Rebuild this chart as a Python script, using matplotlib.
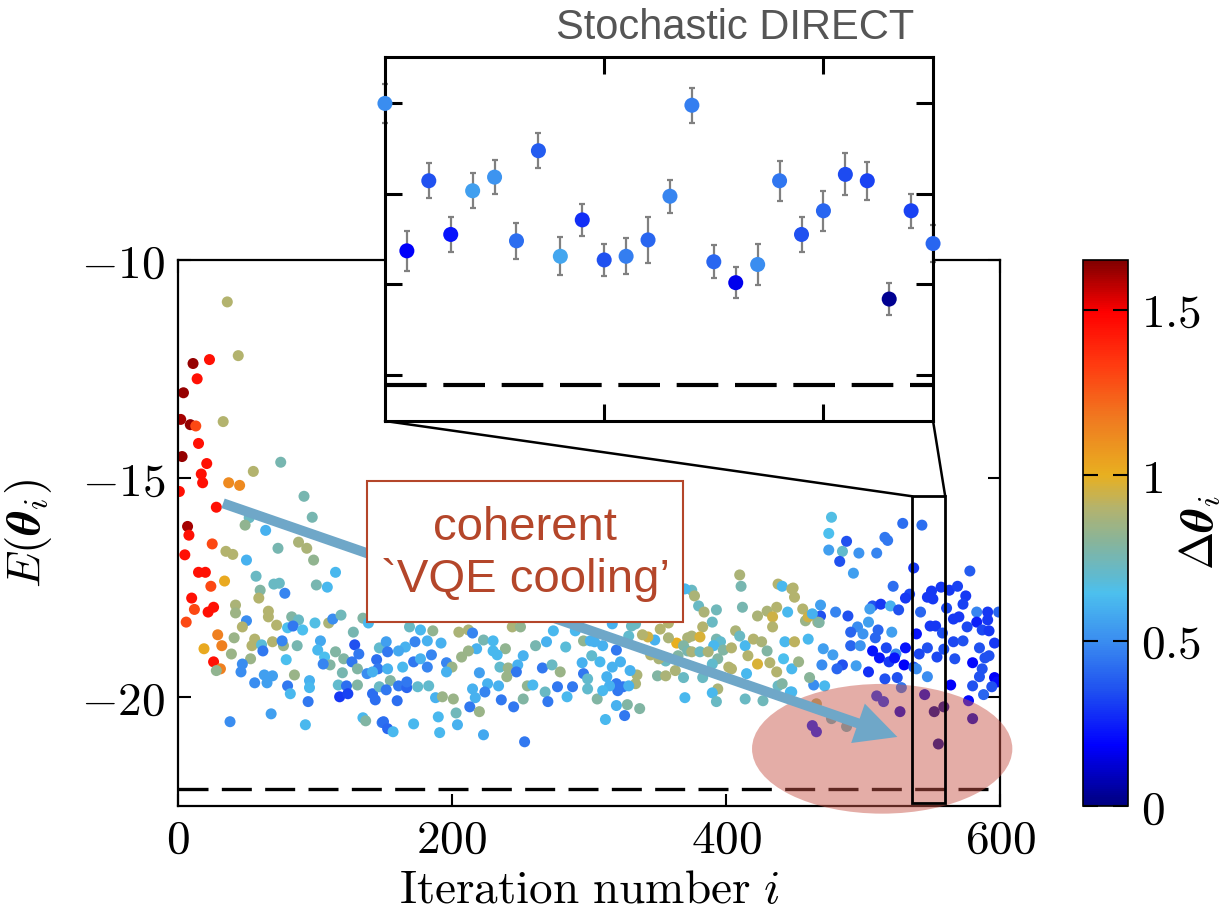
import numpy as np
import matplotlib
matplotlib.use("Agg")
import matplotlib.pyplot as plt
from matplotlib.colors import LinearSegmentedColormap, Normalize
from matplotlib.patches import Rectangle, Ellipse, ConnectionPatch
from matplotlib.ticker import FuncFormatter

plt.rcParams.update({
    "mathtext.fontset": "cm",
    "font.family": "DejaVu Serif",
    "xtick.direction": "in",
    "ytick.direction": "in",
})

# ---------------------------------------------------------------------------
# Data: (iteration, energy, delta theta)
# ---------------------------------------------------------------------------
early = [
    (15, -14.2, 1.45), (3, -14.5, 1.62), (21, -14.66, 1.45), (17, -14.9, 1.45),
    (18, -15.1, 1.45), (1, -15.3, 1.45), (28, -15.66, 1.45), (7, -16.1, 1.6),
    (8, -16.3, 1.45), (25, -16.5, 1.3), (5, -16.75, 1.45), (15, -17.15, 1.45),
    (20, -17.15, 1.45), (24, -17.47, 1.3), (34, -17.35, 1.02), (10, -17.74, 1.45),
    (12, -18.0, 1.3), (26, -17.95, 1.45), (22, -18.06, 1.45), (6, -18.29, 1.3),
    (29, -18.58, 1.15), (32, -18.83, 1.15), (19, -18.9, 1.02), (26, -19.2, 1.45),
    (31, -19.36, 1.15), (28, -19.4, 0.82),
    (36, -10.96, 0.9), (44, -12.19, 0.9), (11, -12.37, 1.62), (23, -12.28, 1.45),
    (14, -12.72, 1.45), (4, -13.04, 1.62), (2, -13.65, 1.6), (9, -13.77, 1.62),
    (13, -13.8, 1.3), (33, -13.7, 0.9),
]

block_1 = [
    (55, -14.84, 0.9), (75, -14.63, 0.76), (37, -15.1, 1.12), (45, -15.16, 1.12),
    (92, -15.41, 0.76), (98, -15.89, 0.76), (52, -15.9, 0.72), (49, -16.07, 0.82),
    (64, -16.19, 0.6), (73, -16.6, 0.76), (88, -16.46, 0.88), (94, -16.6, 0.88),
    (99, -16.87, 0.82), (35, -16.67, 0.9), (40, -16.74, 0.9), (50, -16.87, 0.6),
    (115, -17.15, 0.62), (57, -17.24, 0.72), (70, -17.42, 0.72), (74, -17.4, 0.72),
    (101, -17.44, 0.76), (109, -17.49, 0.62), (60, -17.56, 0.78), (78, -17.63, 0.48),
    (59, -17.74, 0.9), (42, -17.9, 0.88), (42, -18.08, 0.85), (66, -18.04, 0.9),
    (66, -18.17, 0.9), (72, -18.36, 0.9), (50, -18.26, 0.5), (47, -18.4, 0.9),
    (83, -18.17, 0.78), (88, -18.24, 0.72), (80, -18.42, 0.64), (84, -18.38, 0.45),
    (91, -18.47, 0.64), (100, -18.31, 0.66), (110, -18.31, 0.88), (113, -18.22, 0.5),
    (119, -18.13, 0.74), (135, -18.2, 0.78), (139, -18.31, 0.62), (128, -18.52, 0.76),
    (41, -18.65, 0.84), (56, -18.68, 0.9), (54, -18.83, 0.9), (61, -18.81, 0.68),
    (62, -18.95, 0.45), (69, -18.74, 0.9), (77, -18.83, 0.84), (76, -18.72, 0.48),
    (87, -18.83, 0.76), (104, -18.72, 0.58), (129, -18.81, 0.35), (147, -18.88, 0.7),
    (39, -19.02, 0.84), (53, -19.13, 0.84), (47, -19.25, 0.5), (46, -19.43, 0.5),
    (79, -19.15, 0.64), (102, -18.93, 0.62), (107, -19.09, 0.64), (115, -18.97, 0.78),
    (111, -19.27, 0.78), (106, -19.25, 0.48), (121, -19.13, 0.78), (127, -19.2, 0.45),
    (132, -19.02, 0.45), (131, -19.36, 0.78), (120, -19.45, 0.76), (145, -19.15, 0.42),
    (146, -19.36, 0.45), (138, -19.47, 0.5), (142, -19.43, 0.6), (56, -19.68, 0.5),
    (63, -19.5, 0.55), (69, -19.52, 0.55), (65, -19.68, 0.55), (85, -19.5, 0.84),
    (96, -19.63, 0.6), (96, -19.79, 0.62), (80, -19.75, 0.45), (82, -19.93, 0.62),
    (95, -20.11, 0.45), (117, -19.73, 0.7), (123, -19.75, 0.42), (118, -20.0, 0.3),
    (124, -19.93, 0.32), (131, -19.73, 0.78), (142, -19.93, 0.42), (144, -20.07, 0.42),
    (147, -19.77, 0.72), (38, -20.57, 0.5), (68, -20.39, 0.55), (93, -20.64, 0.62),
    (135, -20.48, 0.62), (137, -20.55, 0.78), (149, -20.59, 0.45),
]

block_2 = [
    (169, -18.4, 0.72), (177, -18.47, 0.62), (186, -18.49, 0.82), (205, -18.52, 0.88),
    (212, -18.47, 0.88), (215, -18.54, 0.48), (223, -18.7, 0.76), (230, -18.72, 0.62),
    (244, -18.4, 0.88), (250, -18.4, 0.82), (274, -18.49, 0.62), (290, -18.49, 0.62),
    (296, -18.72, 0.82), (152, -18.74, 0.55), (166, -18.86, 0.6), (173, -18.74, 0.48),
    (182, -18.72, 0.6), (192, -18.77, 0.6), (218, -18.9, 0.6), (230, -18.95, 0.62),
    (239, -18.9, 0.82), (252, -19.06, 0.6), (261, -18.83, 0.76), (269, -18.74, 0.6),
    (283, -18.86, 0.68), (153, -18.97, 0.45), (161, -18.95, 0.58), (172, -19.2, 0.45),
    (185, -19.04, 0.48), (177, -19.13, 0.6), (182, -19.32, 0.48), (164, -19.32, 0.62),
    (153, -19.36, 0.6), (196, -19.22, 0.48), (200, -19.32, 0.84), (207, -19.09, 0.84),
    (212, -18.95, 0.84), (233, -19.04, 0.62), (235, -19.32, 0.7), (241, -19.34, 0.84),
    (248, -19.27, 0.6), (247, -19.43, 0.45), (266, -19.34, 0.45), (273, -19.27, 0.72),
    (279, -19.43, 0.84), (196, -19.43, 0.6), (220, -19.45, 0.55), (240, -19.54, 0.84),
    (295, -19.22, 0.6), (296, -19.47, 0.45), (155, -19.63, 0.78), (161, -19.75, 0.45),
    (167, -19.79, 0.4), (167, -19.66, 0.45), (175, -19.77, 0.7), (183, -19.75, 0.7),
    (152, -19.84, 0.45), (226, -19.7, 0.6), (234, -19.75, 0.6), (215, -19.82, 0.6),
    (255, -19.75, 0.82), (259, -19.73, 0.62), (268, -19.89, 0.72), (277, -19.77, 0.45),
    (288, -19.77, 0.45), (284, -20.0, 0.62), (188, -20.02, 0.6), (193, -20.0, 0.84),
    (201, -20.05, 0.84), (217, -20.02, 0.6), (224, -19.89, 0.48), (236, -20.07, 0.45),
    (252, -20.05, 0.78), (270, -20.11, 0.45), (160, -20.09, 0.42), (213, -20.23, 0.45),
    (220, -20.34, 0.84), (203, -20.37, 0.74), (245, -20.23, 0.45), (190, -20.46, 0.62),
    (204, -20.64, 0.6), (172, -20.62, 0.62), (150, -20.57, 0.42), (153, -20.73, 0.4),
    (157, -20.8, 0.62), (191, -20.82, 0.62), (223, -20.87, 0.58), (253, -21.03, 0.45),
]

block_3 = [
    (375, -17.56, 0.72), (377, -17.69, 0.88), (380, -17.92, 0.72), (384, -18.06, 0.88),
    (393, -18.01, 0.74), (390, -18.29, 0.72), (410, -17.21, 0.88), (411, -17.47, 0.76),
    (412, -17.95, 0.76), (423, -18.15, 0.88), (430, -18.04, 0.88), (437, -17.95, 0.9),
    (434, -18.17, 0.95), (438, -17.42, 0.9), (441, -17.47, 0.62), (448, -17.53, 0.9),
    (445, -18.06, 0.62), (434, -18.4, 0.9), (383, -18.4, 0.9), (375, -18.61, 0.88),
    (381, -18.63, 0.97), (372, -18.65, 0.88), (364, -18.77, 1.0), (358, -18.65, 0.88),
    (348, -18.7, 0.6), (343, -18.63, 0.95), (339, -18.58, 0.9), (352, -18.45, 0.9),
    (358, -18.31, 0.9), (393, -18.68, 0.76), (396, -18.74, 0.7), (391, -18.83, 0.62),
    (398, -18.93, 0.78), (407, -18.49, 0.88), (410, -18.61, 0.72), (404, -18.88, 0.9),
    (414, -18.83, 0.62), (420, -18.68, 0.9), (426, -18.74, 0.88), (430, -18.95, 0.78),
    (416, -19.06, 0.9), (423, -19.25, 0.97), (432, -19.22, 0.9), (437, -19.43, 0.9),
    (443, -18.74, 0.62), (442, -19.13, 0.64), (448, -19.36, 0.62), (438, -19.75, 0.72),
    (369, -18.83, 0.78), (372, -18.95, 0.76), (375, -18.97, 0.88), (381, -18.97, 0.72),
    (387, -18.97, 0.88), (365, -19.06, 0.78), (402, -19.32, 0.9), (404, -19.36, 0.9),
    (394, -19.13, 0.78), (390, -19.25, 0.7), (356, -19.18, 0.72), (351, -19.13, 0.88),
    (345, -19.04, 0.9), (350, -19.52, 0.78), (356, -19.52, 0.88), (363, -19.4, 0.88),
    (369, -19.56, 0.72), (383, -19.56, 0.72), (394, -19.82, 0.88), (390, -19.91, 0.62),
    (393, -20.11, 0.72), (415, -19.47, 0.62), (414, -20.05, 0.72), (427, -20.09, 0.74),
    (370, -20.02, 0.62), (335, -19.5, 0.88), (334, -19.7, 0.88), (330, -19.4, 0.6),
    (337, -20.27, 0.78), (328, -20.18, 0.78), (320, -20.2, 0.6), (326, -20.43, 0.45),
    (312, -20.52, 0.62), (306, -20.05, 0.78), (320, -19.7, 0.45), (325, -19.77, 0.45),
    (329, -19.75, 0.6), (321, -19.86, 0.45), (315, -19.75, 0.6), (310, -19.86, 0.62),
    (313, -19.54, 0.6), (299, -19.59, 0.7), (299, -19.82, 0.7), (320, -18.93, 0.45),
    (323, -19.2, 0.6), (317, -19.32, 0.6), (308, -19.2, 0.62), (302, -19.06, 0.7),
    (304, -18.74, 0.6), (301, -18.72, 0.6), (310, -18.83, 0.6), (329, -18.61, 0.7),
    (331, -18.38, 0.72), (317, -18.33, 0.6), (334, -18.33, 0.72), (370, -17.53, 0.62),
]

late = [
    (477, -15.89, 0.66), (475, -16.26, 0.64), (475, -16.64, 0.55), (485, -16.67, 0.7),
    (488, -16.44, 0.35), (483, -16.9, 0.35), (497, -16.71, 0.52), (510, -16.71, 0.48),
    (493, -17.17, 0.55), (516, -16.35, 0.45), (518, -16.42, 0.45), (529, -16.03, 0.42),
    (543, -16.07, 0.42), (537, -17.05, 0.3), (578, -17.12, 0.38),
    (522, -17.47, 0.42), (534, -17.65, 0.33), (531, -17.74, 0.3), (550, -17.58, 0.3),
    (557, -17.49, 0.3), (563, -17.56, 0.3), (569, -17.47, 0.32), (575, -17.69, 0.3),
    (573, -17.88, 0.32), (547, -17.72, 0.3), (551, -17.76, 0.3), (561, -17.97, 0.33),
    (469, -17.9, 0.55), (469, -18.15, 0.35), (480, -18.06, 0.48), (489, -18.15, 0.35),
    (507, -17.92, 0.35), (513, -17.88, 0.3), (520, -17.92, 0.6), (526, -18.01, 0.35),
    (505, -17.99, 0.55), (542, -18.06, 0.4), (566, -18.22, 0.3), (570, -18.17, 0.3),
    (583, -18.06, 0.48), (591, -18.06, 0.3), (599, -18.06, 0.4), (583, -18.29, 0.25),
    (591, -18.24, 0.3), (576, -18.4, 0.33), (587, -18.47, 0.33), (592, -18.49, 0.3),
    (549, -18.38, 0.3), (553, -18.38, 0.3), (558, -18.54, 0.35), (539, -18.56, 0.22),
    (521, -18.52, 0.55), (511, -18.47, 0.4), (504, -18.29, 0.55), (496, -18.4, 0.5),
    (491, -18.52, 0.4), (500, -18.56, 0.52), (509, -18.65, 0.4), (491, -18.83, 0.4),
    (498, -18.83, 0.52), (471, -18.9, 0.55), (478, -19.04, 0.55), (507, -18.95, 0.22),
    (517, -18.88, 0.33), (524, -19.02, 0.5), (531, -18.88, 0.22), (541, -19.02, 0.33),
    (547, -18.88, 0.35), (554, -19.09, 0.33), (559, -18.91, 0.35), (566, -18.74, 0.33),
    (573, -18.72, 0.35), (585, -18.88, 0.35), (596, -18.77, 0.3), (592, -19.06, 0.35),
    (589, -19.11, 0.35), (567, -19.13, 0.35), (580, -19.22, 0.2), (512, -19.11, 0.22),
    (519, -19.2, 0.3), (523, -19.11, 0.22), (530, -19.27, 0.18), (537, -19.32, 0.35),
    (539, -19.36, 0.5), (547, -19.54, 0.5), (485, -19.27, 0.35), (481, -19.36, 0.4),
    (470, -19.27, 0.5), (495, -19.29, 0.55), (504, -19.43, 0.28), (516, -19.59, 0.35),
    (525, -19.56, 0.35), (564, -19.73, 0.18), (587, -19.36, 0.35), (585, -19.54, 0.35),
    (580, -19.75, 0.35), (596, -19.56, 0.18), (598, -19.66, 0.2), (594, -19.77, 0.35),
    (588, -19.95, 0.4), (464, -19.73, 0.5), (472, -19.75, 0.62), (461, -19.56, 0.8),
    (453, -19.2, 0.84), (450, -18.74, 0.92), (458, -18.26, 0.84), (456, -17.99, 0.9),
    (461, -18.15, 0.7), (450, -17.72, 0.9), (449, -17.51, 0.9), (467, -18.29, 0.84),
    (460, -18.68, 0.62), (448, -19.89, 0.62), (460, -18.17, 0.95), (463, -18.1, 0.6),
    (468, -18.3, 0.78), (441, -19.7, 0.78), (447, -19.89, 0.62),
    (510, -19.98, 0.3), (515, -20.11, 0.3), (528, -19.79, 0.45), (545, -19.95, 0.12),
    (527, -20.34, 0.12), (552, -20.34, 0.02), (559, -20.23, 0.02), (555, -21.08, 0.02),
    (577, -20.09, 0.2), (580, -20.5, 0.1), (463, -20.66, 0.25), (466, -20.8, 0.25),
    (466, -20.16, 0.9), (477, -20.5, 0.72), (488, -20.68, 0.72),
]

# Inset: stochastic DIRECT, one point per iteration 530..555
inset_iter = list(range(530, 556))
inset_E = [-19.01, -20.63, -19.86, -20.45, -19.97, -19.82, -20.52, -19.53,
           -20.69, -20.29, -20.73, -20.69, -20.51, -20.03, -19.03, -20.75,
           -20.98, -20.78, -19.86, -20.45, -20.19, -19.79, -19.86, -21.16,
           -20.19, -20.55]
inset_err = [0.21, 0.22, 0.19, 0.19, 0.19, 0.19, 0.20, 0.19, 0.21, 0.18,
             0.18, 0.20, 0.25, 0.18, 0.19, 0.18, 0.17, 0.23, 0.22, 0.19,
             0.22, 0.23, 0.21, 0.18, 0.19, 0.20]
inset_dtheta = [0.5, 0.18, 0.35, 0.22, 0.55, 0.52, 0.42, 0.38, 0.57, 0.28,
                0.35, 0.46, 0.4, 0.48, 0.46, 0.4, 0.16, 0.5, 0.44, 0.35,
                0.4, 0.34, 0.32, 0.03, 0.32, 0.4]

E_ground = -22.1
zoom_x = (536, 560)
zoom_y = (-22.42, -15.41)

# colour map similar to the figure (navy -> blue -> sky -> olive -> gold -> red)
cmap_nodes = [
    (0.0, "#00007f"), (0.11, "#0000ff"), (0.21, "#1f50f0"), (0.30, "#3a8cf0"),
    (0.39, "#4cc0ee"), (0.42, "#5fbad0"), (0.485, "#88b49a"), (0.545, "#b3b36e"),
    (0.606, "#e8b020"), (0.71, "#f07a20"), (0.81, "#ff3a10"), (0.905, "#ff0000"),
    (1.0, "#800000"),
]
cmap = LinearSegmentedColormap.from_list("dtheta", cmap_nodes)
norm = Normalize(vmin=0, vmax=1.65)

pts = np.array(early + block_1 + block_2 + block_3 + late)
it, E, dth = pts[:, 0], pts[:, 1], pts[:, 2]

math_fmt = FuncFormatter(lambda v, p: f"${v:g}$")

fig = plt.figure(figsize=(12.24, 9.18), dpi=100)
ax = fig.add_axes([0.1454, 0.122, 0.6716, 0.5948])

sc = ax.scatter(it, E, c=dth, cmap=cmap, norm=norm, s=63, linewidths=0, zorder=2)
ax.axhline(E_ground, color="black", lw=2.4, dashes=(9, 4), zorder=1)

ax.add_patch(Ellipse((514, -21.19), 190, 2.97, facecolor="#c85448", alpha=0.48,
                     edgecolor="none", zorder=3, clip_on=False))
ax.annotate("", xy=(527, -20.94), xytext=(31, -15.55), zorder=4,
            arrowprops=dict(arrowstyle="simple,head_length=1.5,head_width=1.5,tail_width=0.36",
                            mutation_scale=20, color="#6fa7c8", lw=0))

ax.add_patch(Rectangle((138, -18.29), 230.6, 3.22, facecolor="white",
                       edgecolor="#b4462a", lw=1.5, zorder=5))
ax.text(253.3, -16.73, "coherent\n`VQE cooling\u2019", ha="center", va="center",
        fontsize=34, color="#b4462a", family="Liberation Sans", linespacing=1.25,
        zorder=6)

ax.add_patch(Rectangle((zoom_x[0], zoom_y[0]), zoom_x[1] - zoom_x[0],
                       zoom_y[1] - zoom_y[0], fill=False, edgecolor="black",
                       lw=2, zorder=6))

ax.set_xlim(0, 600)
ax.set_ylim(-22.5, -10)
ax.set_xticks([0, 200, 400, 600])
ax.set_yticks([-20, -15, -10])
ax.xaxis.set_major_formatter(math_fmt)
ax.yaxis.set_major_formatter(math_fmt)
ax.tick_params(top=True, right=True, length=9, width=1.5, labelsize=34)
ax.tick_params(axis="x", pad=8)
ax.tick_params(axis="y", pad=9)
for s in ax.spines.values():
    s.set_linewidth(1.6)
ax.set_xlabel(r"$\mathrm{Iteration\ number}\ i$", fontsize=34, labelpad=4)
ax.set_ylabel(r"$E(\boldsymbol{\theta}_i)$", fontsize=34, labelpad=20)

# inset
axi = fig.add_axes([0.3145, 0.5414, 0.4478, 0.3965])
axi.errorbar(inset_iter, inset_E, yerr=inset_err, fmt="none", ecolor="#808080",
             elinewidth=1.6, capsize=2.5, capthick=1.6, clip_on=False, zorder=2)
axi.scatter(inset_iter, inset_E, c=inset_dtheta, cmap=cmap, norm=norm, s=117,
            linewidths=0, clip_on=False, zorder=3)
axi.axhline(E_ground, color="black", lw=3, dashes=(10, 4), zorder=1)
axi.set_xlim(530, 555)
axi.set_ylim(-22.5, -18.5)
axi.set_xticks([540, 550])
axi.set_yticks([-22, -21, -20, -19])
axi.tick_params(top=True, right=True, length=12, width=2.2,
                labelbottom=False, labelleft=False)
for s in axi.spines.values():
    s.set_linewidth(2.2)
fig.text(735 / 1224, 1 - 28 / 918, "Stochastic DIRECT", ha="center", va="center",
         fontsize=30, color="#555555", family="Liberation Sans")

for xa, xb in ((0, zoom_x[0]), (1, zoom_x[1])):
    con = ConnectionPatch(xyA=(xa, 0), coordsA=axi.transAxes,
                          xyB=(xb, zoom_y[1]), coordsB=ax.transData,
                          color="black", lw=1.8)
    fig.add_artist(con)

# colorbar
cax = fig.add_axes([0.8844, 0.122, 0.0372, 0.5948])
cb = fig.colorbar(sc, cax=cax, ticks=[0, 0.5, 1, 1.5])
cb.outline.set_linewidth(1.2)
cax.yaxis.set_major_formatter(math_fmt)
cax.tick_params(direction="in", left=True, right=True, length=11, width=1.5,
                labelsize=34, pad=9)
cb.set_label(r"$\Delta\boldsymbol{\theta}_i$", fontsize=33, labelpad=-16)

fig.savefig("out.png", dpi=100)
